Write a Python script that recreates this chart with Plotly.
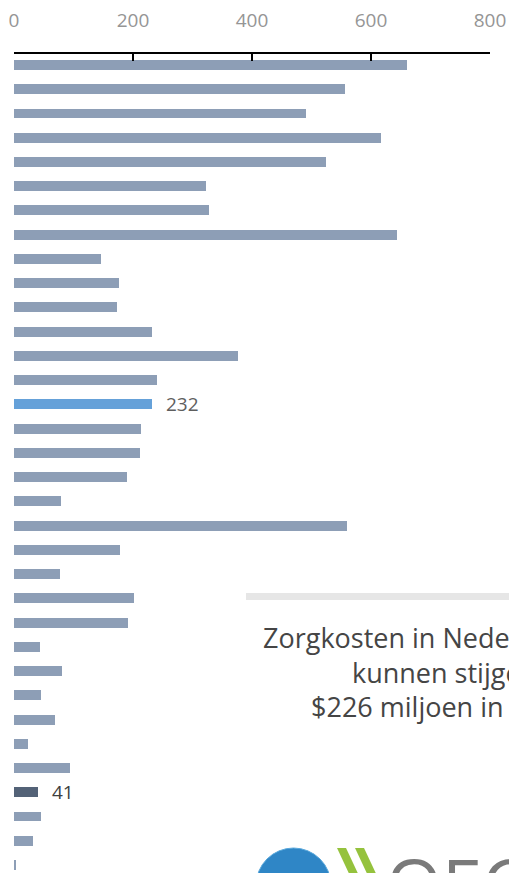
import plotly.graph_objects as go

# ---- data ----
rows = list(range(1, 35))
values = [660, 557, 490, 617, 525, 322, 328, 644, 146, 176,
          173, 232, 376, 240, 232, 213, 211, 190, 79, 560,
          178, 77, 202, 192, 44, 81, 46, 69, 23, 94,
          41, 46, 32, 3]
highlight_row = 15   # Nederland
dark_row = 31
tick_vals = [0, 200, 400, 600, 800]
tick_text = ["0", "200", "400", "600", "800"]
headline = ["Zorgkosten in Nederland", "kunnen stijgen tot", "$226 miljoen in 2050"]

W, H = 509, 873
# plot area in page pixels
X0, X1 = 14, 490
Y0 = 54
ML, MR, MT, MB = X0, W - X1, Y0, 0
PW, PH = X1 - X0, H - Y0
ROW_PX = 24.24

def px(x):
    return (x - X0) / PW

def py(y):
    return (H - y) / PH

base = "#8d9eb6"
colors = []
for r in rows:
    if r == highlight_row:
        colors.append("#65a1d9")
    elif r == dark_row:
        colors.append("#536277")
    else:
        colors.append(base)

fig = go.Figure()
fig.add_trace(go.Bar(
    x=values, y=rows, orientation="h",
    marker=dict(color=colors, line=dict(width=0)),
    width=0.41, hoverinfo="x",
))

# value labels for highlighted bars
for r, c in [(highlight_row, "#5e5e5e"), (dark_row, "#404040")]:
    fig.add_annotation(x=values[r - 1], y=r, xref="x", yref="y",
                       text=str(values[r - 1]), showarrow=False,
                       xanchor="left", yanchor="middle", xshift=12,
                       font=dict(family="Open Sans", size=19, color=c))

# headline block
fig.add_shape(type="rect", xref="paper", yref="paper",
              x0=px(246), x1=px(530), y0=py(600), y1=py(593),
              fillcolor="#e6e6e6", line=dict(width=0), layer="below")
for txt, x0, yc in zip(headline, [261, 350, 309], [637, 672, 706]):
    fig.add_annotation(x=px(x0), y=py(yc), xref="paper", yref="paper",
                       text=txt, showarrow=False, xanchor="left", yanchor="middle",
                       font=dict(family="Open Sans", size=27, color="#454545"))

# logo (partially visible at the bottom)
fig.add_shape(type="circle", xref="paper", yref="paper",
              x0=px(256), x1=px(331), y0=py(923), y1=py(848),
              fillcolor="#2f86c6", line=dict(color="#5aa9dc", width=1))
for xs in (337, 355):
    path = (f"M {px(xs)},{py(848)} L {px(xs+9)},{py(848)} "
            f"L {px(xs+24)},{py(880)} L {px(xs+15)},{py(880)} Z")
    fig.add_shape(type="path", xref="paper", yref="paper", path=path,
                  fillcolor="#95c23d", line=dict(width=0))
fig.add_annotation(x=px(384), y=py(832), xref="paper", yref="paper",
                   text="OECD", showarrow=False, xanchor="left", yanchor="top",
                   font=dict(family="Open Sans", size=72, color="#7a7a7a"))

fig.update_layout(
    width=W, height=H,
    margin=dict(l=ML, r=MR, t=MT, b=MB),
    paper_bgcolor="white", plot_bgcolor="white",
    showlegend=False, bargap=0,
    xaxis=dict(side="top", range=[0, 800], tickvals=tick_vals, ticktext=tick_text,
               showgrid=False, zeroline=False, showline=True, linecolor="black",
               linewidth=2, ticks="inside", ticklen=7, tickwidth=2, tickcolor="black",
               ticklabelstandoff=17,
               tickfont=dict(family="Open Sans", size=19, color="#959595"),
               fixedrange=True),
    yaxis=dict(range=[34 + (H - 865) / ROW_PX, 1 - (65 - Y0) / ROW_PX],
               showticklabels=False, showgrid=False, zeroline=False,
               showline=False, ticks="", fixedrange=True),
)

fig.write_html("out.html", config={"displayModeBar": False},
               post_script="document.body.style.margin='0px';document.body.style.overflow='hidden';")
